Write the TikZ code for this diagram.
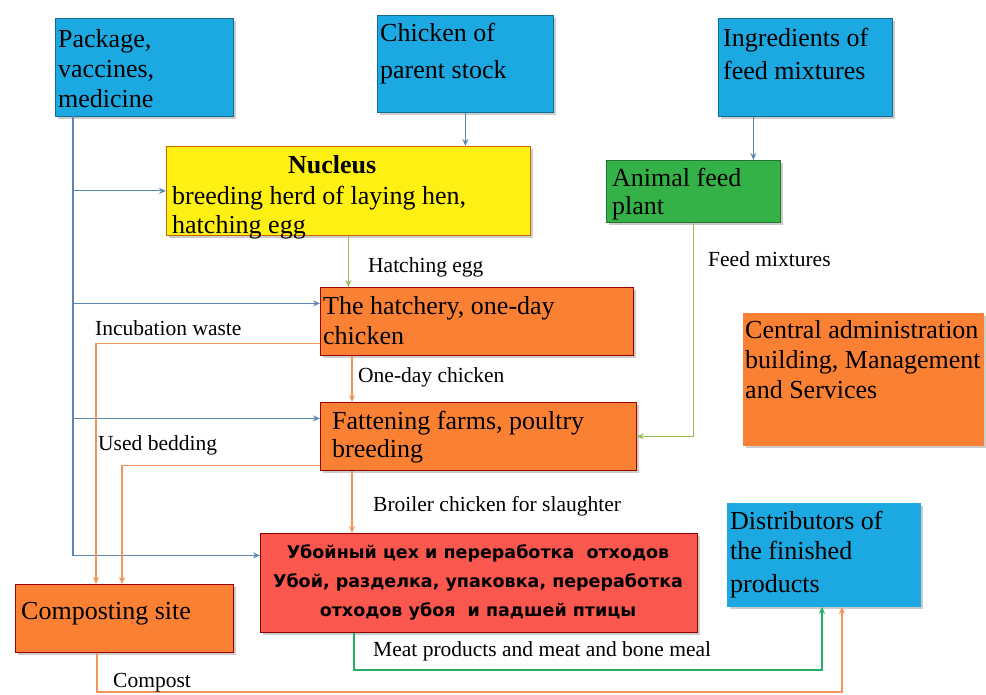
\documentclass[tikz,border=0pt]{standalone}
\usepackage{fontspec}
\setmainfont{Liberation Serif}
\newfontfamily\rufont{DejaVu Sans}
\usetikzlibrary{arrows.meta,shadows}
\definecolor{cblue}{RGB}{28,168,225}
\definecolor{cyell}{RGB}{255,240,20}
\definecolor{cgreen}{RGB}{52,178,72}
\definecolor{corange}{RGB}{250,128,52}
\definecolor{cred}{RGB}{250,88,78}
\definecolor{lblue}{RGB}{95,135,180}
\definecolor{lolive}{RGB}{155,187,89}
\definecolor{lorange}{RGB}{242,150,90}
\definecolor{lgreen}{RGB}{35,175,100}
\begin{document}
\begin{tikzpicture}[x=1pt,y=-1pt,
  box/.style={draw=#1!65!black, fill=#1, line width=0.8pt, inner sep=0pt, anchor=north west,
    drop shadow={shadow xshift=2.5pt, shadow yshift=-2.5pt, opacity=0.4}},
  txt/.style={align=left, inner sep=0pt, anchor=north west, font=\fontsize{26}{30}\selectfont},
  lbl/.style={inner sep=0pt, anchor=west, font=\fontsize{21.5}{25}\selectfont},
  tip/.style={-{Stealth[length=7pt,width=6pt]}},
  bl/.style={draw=lblue, line width=1.1pt, tip},
  ol/.style={draw=lolive, line width=1.6pt, tip},
  orl/.style={draw=lorange, line width=1.6pt, tip},
  gl/.style={draw=lgreen, line width=2.2pt, tip}]
\useasboundingbox (0,0) rectangle (986,695);
% boxes
\node[box=cblue, minimum width=178, minimum height=98] (pkg) at (55,18) {};
\node[box=cblue, minimum width=176, minimum height=97] (chick) at (377,15) {};
\node[box=cblue, minimum width=174, minimum height=98] (ingr) at (718,18) {};
\node[box=cyell, draw=orange!80!black, minimum width=364, minimum height=89] (nuc) at (166,146) {};
\node[box=cgreen, minimum width=174, minimum height=62] (feed) at (606,160) {};
\node[box=corange, draw=red!60!black, minimum width=313, minimum height=68] (hatch) at (320,287) {};
\node[box=corange, draw=corange, drop shadow={opacity=0}, minimum width=240, minimum height=132] (admin) at (743,313) {};
\node[box=corange, draw=red!60!black, minimum width=316, minimum height=68] (fat) at (320,402) {};
\node[box=cred, draw=red!55!black, minimum width=437, minimum height=99] (sl) at (260,533) {};
\node[box=cblue, draw=cblue, minimum width=193, minimum height=103] (dist) at (727,503) {};
\node[box=corange, draw=red!60!black, minimum width=218, minimum height=68] (comp) at (15,584) {};
% box texts
\node[txt] (tpkg) at (58,29) {Package,\\vaccines,\\medicine};
\node[txt] (tchick) at (380,23) {Chicken of\\[7pt]parent stock};
\node[txt] (tingr) at (723,28) {Ingredients of\\[3pt]feed mixtures};
\node[txt, align=center, font=\fontsize{26}{30}\bfseries] (tnuc0) at (288,155) {Nucleus};
\node[txt] (tnuc) at (172,186) {breeding herd of laying hen,\\[-1pt]hatching egg};
\node[txt] (tfeed) at (612,168) {Animal feed\\[-2pt]plant};
\node[txt] (thatch) at (323,296) {The hatchery, one-day\\chicken};
\node[txt] (tadmin) at (745,320) {Central administration\\building, Management\\and Services};
\node[txt] (tfat) at (332,411) {Fattening farms, poultry\\[-2pt]breeding};
\node[align=center, inner sep=0pt, font=\rufont\bfseries\fontsize{17.5}{29}\selectfont] (tsl) at (478,582) {Убойный цех и переработка\ \ отходов\\Убой, разделка, упаковка, переработка\\отходов убоя\ \ и падшей птицы};
\node[txt] (tdist) at (730,511) {Distributors of\\the finished\\[3pt]products};
\node[txt, anchor=west] (tcomp) at (21,614) {Composting site};
% connectors
\coordinate (bus) at (73,116);
\coordinate (hin) at ([yshift=18pt]hatch.west);
\coordinate (fin) at ([yshift=18pt]fat.west);
\coordinate (sin) at ([yshift=27.5pt]sl.west);
\draw[bl] (bus) |- (sin);
\draw[bl] (bus |- nuc.west) -- (nuc.west);
\draw[bl] (bus |- hin) -- (hin);
\draw[bl] (bus |- fin) -- (fin);
\draw[bl] (chick.south) -- (chick.south |- nuc.north);
\coordinate (ingout) at ([xshift=-52pt]ingr.south);
\draw[bl] (ingout) -- (ingout |- feed.north);
\draw[ol] (nuc.south) -- (nuc.south |- hatch.north);
\draw[ol] (feed.south) |- (fat.east);
\draw[orl] ([xshift=32pt]hatch.south west) -- ([xshift=32pt]fat.north west);
\coordinate (fout) at ([xshift=32pt]fat.south west);
\draw[orl] (fout) -- (fout |- sl.north);
\draw[orl] ([yshift=-22pt]hatch.west) -| ([xshift=81pt]comp.north west);
\draw[orl] ([yshift=-29pt]fat.west) -| ([xshift=107pt]comp.north west);
\coordinate (mturn) at (354,670);
\draw[gl] ([xshift=94pt]sl.south west) -- (mturn) -| ([xshift=95pt]dist.south west);
\coordinate (cturn) at (97,692);
\draw[orl] ([xshift=82pt]comp.south west) -- (cturn) -| ([xshift=115pt]dist.south west);
% labels
\node[lbl] (l1) at (368,267) {Hatching egg};
\node[lbl] (l2) at (708,259) {Feed mixtures};
\node[lbl] (l3) at (95,328) {Incubation waste};
\node[lbl] (l4) at (358,377) {One-day chicken};
\node[lbl] (l5) at (98,445) {Used bedding};
\node[lbl] (l6) at (373,506) {Broiler chicken for slaughter};
\node[lbl] (l7) at (373,651) {Meat products and meat and bone meal};
\node[lbl] (l8) at (113,683) {Compost};
\end{tikzpicture}
\end{document}
